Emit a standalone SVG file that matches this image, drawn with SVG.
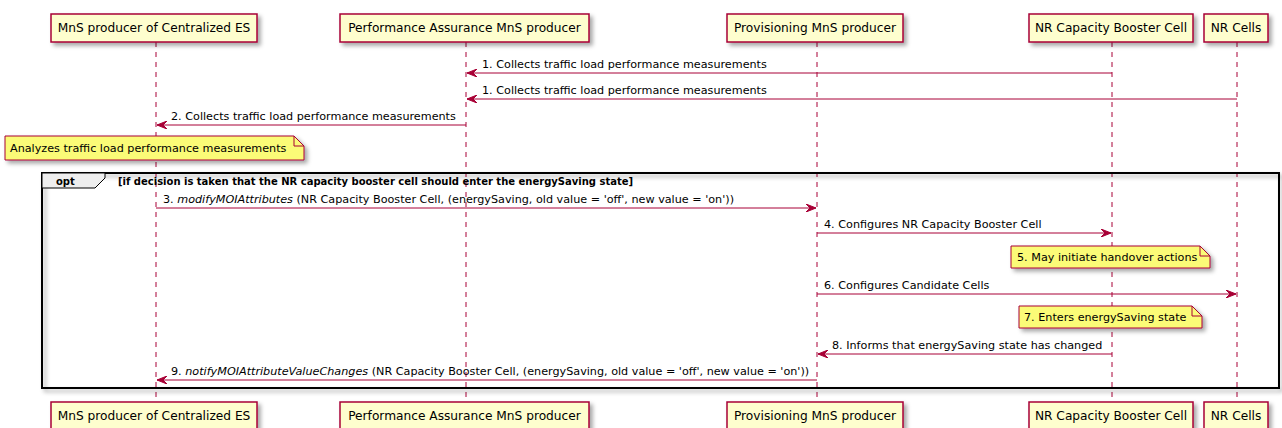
<svg xmlns="http://www.w3.org/2000/svg" width="1282" height="428" viewBox="0 0 1282 428">
<style>
text{font-family:"DejaVu Sans","Liberation Sans",sans-serif;fill:#000}
.pt{font-size:12.2px;text-anchor:middle}
.msg{font-size:11.2px}
.it{font-style:italic}
.box{fill:#FEFECE;stroke:#A80036;stroke-width:1.5}
.life{stroke:#A80036;stroke-width:1;stroke-dasharray:5,5;fill:none}
.arr{stroke:#A80036;stroke-width:1;fill:none;marker-end:url(#ah)}
.note{fill:#FBFB77;stroke:#A80036;stroke-width:1}
.b{font-weight:bold;font-size:10px}
</style>
<defs>
<filter id="sh" x="-10%" y="-20%" width="130%" height="160%">
<feDropShadow dx="3" dy="3" stdDeviation="2" flood-color="#000" flood-opacity="0.35"/>
</filter>
<marker id="ah" markerWidth="10" markerHeight="8" refX="10" refY="4" orient="auto" markerUnits="userSpaceOnUse">
<path d="M0,0 L10,4 L0,8 L4,4 Z" fill="#A80036" stroke="#A80036" stroke-width="1"/>
</marker>
</defs>
<rect width="1282" height="428" fill="#FFFFFF"/>

<g id="lifelines">
<line class="life" x1="156" y1="42" x2="156" y2="402"/>
<line class="life" x1="466" y1="42" x2="466" y2="402"/>
<line class="life" x1="817" y1="42" x2="817" y2="402"/>
<line class="life" x1="1112" y1="42" x2="1112" y2="402"/>
<line class="life" x1="1237" y1="42" x2="1237" y2="402"/>
</g>

<g id="opt">
<rect x="42" y="173" width="1237" height="215" fill="none" stroke="#000" stroke-width="2" filter="url(#sh)"/>
<path d="M42,173 L105,173 L105,178 L95,188 L42,188 Z" fill="#EEEEEE" stroke="#000" stroke-width="1"/>
<text class="b" x="56" y="185">opt</text>
<text class="b" x="118" y="185">[if decision is taken that the NR capacity booster cell should enter the energySaving state]</text>
</g>

<g id="connectors">
<line class="arr" x1="1112" y1="73" x2="467" y2="73"/>
<text class="msg" x="482" y="68">1. Collects traffic load performance measurements</text>
<line class="arr" x1="1237" y1="99" x2="467" y2="99"/>
<text class="msg" x="482" y="94">1. Collects traffic load performance measurements</text>
<line class="arr" x1="466" y1="125" x2="157" y2="125"/>
<text class="msg" x="171" y="120">2. Collects traffic load performance measurements</text>
<line class="arr" x1="156" y1="208" x2="816" y2="208"/>
<text class="msg" x="163" y="203">3. <tspan class="it">modifyMOIAttributes</tspan> (NR Capacity Booster Cell, (energySaving, old value = 'off', new value = 'on'))</text>
<line class="arr" x1="817" y1="233" x2="1111" y2="233"/>
<text class="msg" x="824" y="228">4. Configures NR Capacity Booster Cell</text>
<line class="arr" x1="817" y1="294" x2="1236" y2="294"/>
<text class="msg" x="824" y="289">6. Configures Candidate Cells</text>
<line class="arr" x1="1112" y1="354" x2="818" y2="354"/>
<text class="msg" x="832" y="349">8. Informs that energySaving state has changed</text>
<line class="arr" x1="817" y1="380" x2="157" y2="380"/>
<text class="msg" x="171" y="375">9. <tspan class="it">notifyMOIAttributeValueChanges</tspan> (NR Capacity Booster Cell, (energySaving, old value = 'off', new value = 'on'))</text>
</g>

<g id="note-analyzes">
<path class="note" filter="url(#sh)" d="M5,136 L294,136 L304,146 L304,160 L5,160 Z"/>
<path d="M294,136 L294,146 L304,146" fill="none" stroke="#A80036" stroke-width="1"/>
<text class="msg" x="10" y="152">Analyzes traffic load performance measurements</text>
</g>
<g id="note-5">
<path class="note" filter="url(#sh)" d="M1011,246 L1200,246 L1210,256 L1210,268 L1011,268 Z"/>
<path d="M1200,246 L1200,256 L1210,256" fill="none" stroke="#A80036" stroke-width="1"/>
<text class="msg" x="1017" y="261">5. May initiate handover actions</text>
</g>
<g id="note-7">
<path class="note" filter="url(#sh)" d="M1019,306 L1192,306 L1202,316 L1202,328 L1019,328 Z"/>
<path d="M1192,306 L1192,316 L1202,316" fill="none" stroke="#A80036" stroke-width="1"/>
<text class="msg" x="1024" y="321">7. Enters energySaving state</text>
</g>

<g id="p-centralized-es">
<rect class="box" filter="url(#sh)" x="51" y="14" width="206" height="28"/>
<text class="pt" x="154" y="32">MnS producer of Centralized ES</text>
<rect class="box" filter="url(#sh)" x="51" y="402" width="206" height="28"/>
<text class="pt" x="154" y="420">MnS producer of Centralized ES</text>
</g>
<g id="p-performance">
<rect class="box" filter="url(#sh)" x="340" y="14" width="249" height="28"/>
<text class="pt" x="464.5" y="32">Performance Assurance MnS producer</text>
<rect class="box" filter="url(#sh)" x="340" y="402" width="249" height="28"/>
<text class="pt" x="464.5" y="420">Performance Assurance MnS producer</text>
</g>
<g id="p-provisioning">
<rect class="box" filter="url(#sh)" x="727" y="14" width="176" height="28"/>
<text class="pt" x="815" y="32">Provisioning MnS producer</text>
<rect class="box" filter="url(#sh)" x="727" y="402" width="176" height="28"/>
<text class="pt" x="815" y="420">Provisioning MnS producer</text>
</g>
<g id="p-booster">
<rect class="box" filter="url(#sh)" x="1029" y="14" width="164" height="28"/>
<text class="pt" x="1111" y="32">NR Capacity Booster Cell</text>
<rect class="box" filter="url(#sh)" x="1029" y="402" width="164" height="28"/>
<text class="pt" x="1111" y="420">NR Capacity Booster Cell</text>
</g>
<g id="p-nrcells">
<rect class="box" filter="url(#sh)" x="1204" y="14" width="64" height="28"/>
<text class="pt" x="1236" y="32">NR Cells</text>
<rect class="box" filter="url(#sh)" x="1204" y="402" width="64" height="28"/>
<text class="pt" x="1236" y="420">NR Cells</text>
</g>
</svg>
